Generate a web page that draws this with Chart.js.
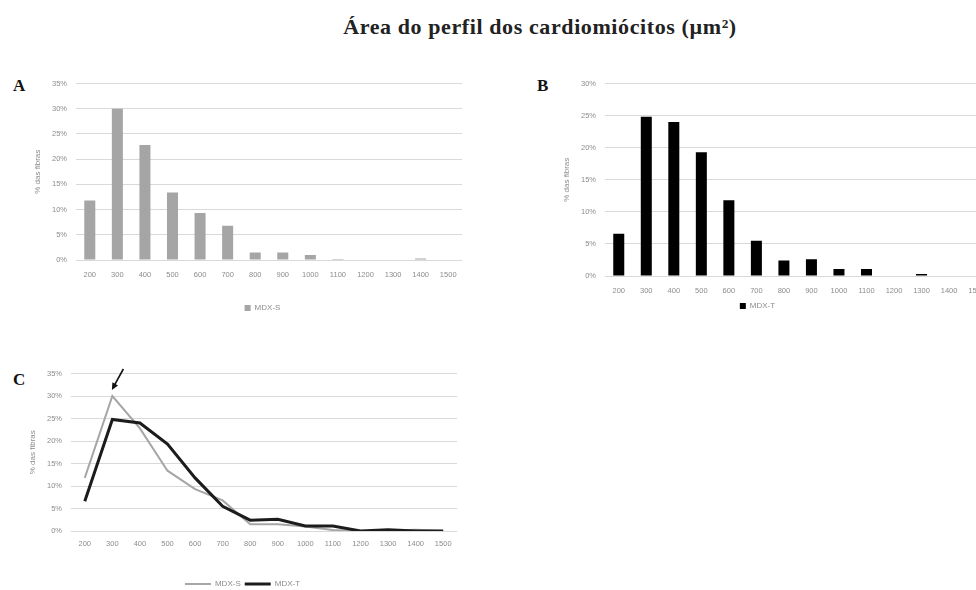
<!DOCTYPE html>
<html>
<head>
<meta charset="utf-8">
<script src="https://cdn.jsdelivr.net/npm/chart.js@4.4.0/dist/chart.umd.min.js"></script>
<style>
  html, body { margin: 0; padding: 0; background: #fff; }
  body { width: 976px; height: 590px; overflow: hidden; position: relative; }
  canvas { position: absolute; }
  .titulo { position: absolute; left: 540px; top: 14px; transform: translateX(-50%);
            white-space: nowrap; font-family: "Liberation Serif", serif; font-weight: bold;
            font-size: 22px; letter-spacing: 0.6px; color: #222; }
  .letra { position: absolute; font-family: "Liberation Serif", serif; font-weight: bold;
           font-size: 17px; color: #111; }
</style>
</head>
<body>
<div class="titulo">Área do perfil dos cardiomiócitos (µm²)</div>
<div class="letra" style="left:13px; top:76px;">A</div>
<div class="letra" style="left:537px; top:76px;">B</div>
<div class="letra" style="left:13px; top:370px;">C</div>

<canvas id="cA" width="480" height="252" style="left:0px; top:70px;"></canvas>
<canvas id="cB" width="475" height="250" style="left:520px; top:70px;"></canvas>
<canvas id="cC" width="480" height="238" style="left:0px; top:360px;"></canvas>

<script>
// Classes de área (µm²)
const faixas = ['200', '300', '400', '500', '600', '700', '800', '900', '1000', '1100', '1200', '1300', '1400', '1500'];
// % das fibras em cada classe
const mdxS = [11.8, 30.0, 22.8, 13.4, 9.3, 6.8, 1.5, 1.5, 1.0, 0.2, 0, 0, 0.3, 0];
const mdxT = [6.6, 24.8, 24.0, 19.3, 11.8, 5.5, 2.4, 2.6, 1.1, 1.1, 0, 0.3, 0, 0];
// Escalas verticais
const passoY = 5;
const maxA = 35, maxB = 30, maxC = 35;

const cinzaTexto = '#8c8c8c';
const grade = '#d9d9d9';
const fonteEixo = { family: '"Liberation Sans", Arial, sans-serif', size: 7.5 };

Chart.defaults.animation = false;
Chart.defaults.responsive = false;
Chart.defaults.devicePixelRatio = 1;
Chart.defaults.font.family = '"Liberation Sans", Arial, sans-serif';

// Desloca horizontalmente a legenda dentro do canvas
const legendShift = {
  id: 'legendShift',
  afterLayout(chart, args, opts) {
    const lg = chart.legend;
    if (!lg || !opts.dx) return;
    lg.left += opts.dx;
    lg.right += opts.dx;
  }
};

// Seta indicando o pico de uma série
const seta = {
  id: 'seta',
  afterDatasetsDraw(chart, args, opts) {
    const p = chart.getDatasetMeta(opts.dataset).data[opts.index];
    if (!p) return;
    const ctx = chart.ctx;
    const tipX = p.x - 0.5, tipY = p.y - 6;
    const tailX = tipX + 11.5, tailY = tipY - 21;
    const ang = Math.atan2(tipY - tailY, tipX - tailX);
    const L = 7, W = 3.2;
    ctx.save();
    ctx.strokeStyle = '#111';
    ctx.fillStyle = '#111';
    ctx.lineWidth = 1.6;
    ctx.beginPath();
    ctx.moveTo(tailX, tailY);
    ctx.lineTo(tipX - Math.cos(ang) * (L - 1), tipY - Math.sin(ang) * (L - 1));
    ctx.stroke();
    ctx.beginPath();
    ctx.moveTo(tipX, tipY);
    ctx.lineTo(tipX - Math.cos(ang) * L - Math.sin(ang) * W, tipY - Math.sin(ang) * L + Math.cos(ang) * W);
    ctx.lineTo(tipX - Math.cos(ang) * L + Math.sin(ang) * W, tipY - Math.sin(ang) * L - Math.cos(ang) * W);
    ctx.closePath();
    ctx.fill();
    ctx.restore();
  }
};

function eixoY(max, largura) {
  return {
    min: 0, max: max,
    ticks: { stepSize: passoY, callback: v => v + '%', color: cinzaTexto, font: fonteEixo, padding: 9 },
    grid: { color: grade, lineWidth: 1, drawTicks: false },
    border: { display: false },
    title: { display: true, text: '% das fibras', color: cinzaTexto,
             font: { family: fonteEixo.family, size: 8 }, padding: { top: 0, bottom: 0 } },
    afterFit(s) { s.width = largura; }
  };
}

function eixoX(altura, pad) {
  return {
    offset: true,
    grid: { display: false, drawTicks: false },
    border: { display: false },
    ticks: { color: cinzaTexto, font: fonteEixo, padding: pad, maxRotation: 0, autoSkip: false },
    afterFit(s) { s.height = altura; }
  };
}

function legenda(extra) {
  return Object.assign({
    display: true,
    position: 'bottom',
    labels: { color: cinzaTexto, font: { family: fonteEixo.family, size: 8 },
              boxWidth: 6, boxHeight: 6, padding: 4 }
  }, extra || {});
}

// A — MDX-S
new Chart(document.getElementById('cA'), {
  type: 'bar',
  data: { labels: faixas, datasets: [{ label: 'MDX-S', data: mdxS, backgroundColor: '#a5a5a5',
          categoryPercentage: 0.8, barPercentage: 0.5 }] },
  options: {
    layout: { padding: { left: 33, right: 18, top: 12, bottom: 0 } },
    scales: { x: eixoX(40, 10), y: eixoY(maxA, 43) },
    plugins: { legend: legenda(), legendShift: { dx: 15 }, tooltip: { enabled: false } }
  },
  plugins: [legendShift]
});

// B — MDX-T
new Chart(document.getElementById('cB'), {
  type: 'bar',
  data: { labels: faixas, datasets: [{ label: 'MDX-T', data: mdxT, backgroundColor: '#000000',
          categoryPercentage: 0.8, barPercentage: 0.5 }] },
  options: {
    layout: { padding: { left: 42, right: 2, top: 12, bottom: 0 } },
    scales: { x: eixoX(22, 10), y: eixoY(maxB, 43) },
    plugins: { legend: legenda(), legendShift: { dx: -20 }, tooltip: { enabled: false } }
  },
  plugins: [legendShift]
});

// C — comparação das duas distribuições
new Chart(document.getElementById('cC'), {
  type: 'line',
  data: {
    labels: faixas,
    datasets: [
      { label: 'MDX-S', data: mdxS, borderColor: '#a6a6a6', backgroundColor: '#a6a6a6',
        borderWidth: 2, pointRadius: 0, tension: 0, order: 1 },
      { label: 'MDX-T', data: mdxT, borderColor: '#1c1c1c', backgroundColor: '#1c1c1c',
        borderWidth: 3, pointRadius: 0, tension: 0, order: 0 }
    ]
  },
  options: {
    layout: { padding: { left: 28, right: 23, top: 13, bottom: 0 } },
    scales: { x: eixoX(45, 8), y: eixoY(maxC, 43) },
    plugins: {
      legend: legenda({
        labels: { color: cinzaTexto, font: { family: fonteEixo.family, size: 8 },
                  usePointStyle: true, pointStyle: 'line', pointStyleWidth: 26, boxHeight: 6,
                  padding: 4, sort: (a, b) => a.datasetIndex - b.datasetIndex }
      }),
      seta: { dataset: 0, index: 1 },
      tooltip: { enabled: false }
    }
  },
  plugins: [legendShift, seta]
});
</script>
</body>
</html>
